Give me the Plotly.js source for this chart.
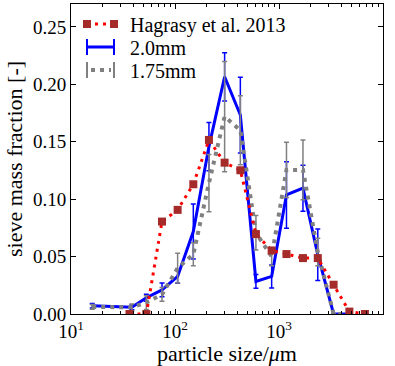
<!DOCTYPE html>
<html>
<head>
<meta charset="utf-8">
<script src="https://cdn.plot.ly/plotly-3.0.1.min.js"></script>
<style>html,body{margin:0;padding:0;background:#fff}</style>
</head>
<body>
<div id="chart" style="width:395px;height:366px"></div>
<script>
// Hagrasy et al. 2013 reference size distribution
const sizeHagrasy = [36.5, 53, 75, 106, 150, 212, 300, 425, 600, 850, 1180, 1700, 2360, 3350, 4750, 6700];
const fracHagrasy = [0.0, 0.0, 0.0805, 0.0907, 0.113, 0.1516, 0.1318, 0.1252, 0.0696, 0.0553, 0.0522, 0.0487, 0.0487, 0.0255, 0.0021, 0.0];

// Sieve analysis, two screen sizes (mean and spread)
const sizeSieve = [16, 38.5, 53, 75, 106, 150, 212, 300, 425, 600, 850, 1180, 1700, 2360, 3350, 4750];
const frac20mm = [0.0072, 0.0058, 0.0142, 0.021, 0.0327, 0.0718, 0.1458, 0.2066, 0.1733, 0.0284, 0.0327, 0.1037, 0.1096, 0.0516, 0.0, 0.0];
const err20mm = [0.002, 0.002, 0.003, 0.006, 0.006, 0.024, 0.021, 0.021, 0.033, 0.006, 0.01, 0.029, 0.02, 0.0225, 0, 0];
const frac175mm = [0.0062, 0.0058, 0.010, 0.017, 0.040, 0.052, 0.114, 0.172, 0.160, 0.0707, 0.05, 0.1255, 0.1255, 0.054, 0.0, 0.0];
const err175mm = [0.002, 0.003, 0.006, 0.006, 0.013, 0.01, 0.025, 0.048, 0.03, 0.015, 0.008, 0.024, 0.026, 0.012, 0, 0];

const seriesNames = ['Hagrasy et al. 2013', '2.0mm', '1.75mm'];

const xTickVals = [10, 100, 1000, 10000];
const xTickText = ['10<sup>1</sup>', '10<sup>2</sup>', '10<sup>3</sup>', '10<sup>4</sup>'];
const yTickVals = [0, 0.05, 0.10, 0.15, 0.20, 0.25];

// minor ticks at 2..9 within each decade
const xMinorVals = [];
[10, 100, 1000].forEach(d => { for (let m = 2; m <= 9; m++) xMinorVals.push(d * m); });

const FONT = '"Liberation Serif", "DejaVu Serif", serif';
const RED = '#ff0000', BROWN = '#a52a2a', BLUE = '#0000ff', GRAY = '#808080';

// plot box in pixels
const M = {l: 71, r: 12, t: 4, b: 52};
const PW = 395 - M.l - M.r, PH = 366 - M.t - M.b;
const px = x => (x - M.l) / PW;
const py = y => (M.t + PH - y) / PH;

const traces = [
  {
    x: sizeSieve, y: frac20mm, type: 'scatter', mode: 'lines', name: seriesNames[1],
    line: {color: BLUE, width: 3},
    error_y: {type: 'data', array: err20mm, visible: true, color: BLUE, thickness: 1.5, width: 2.5}
  },
  {
    x: sizeSieve, y: frac175mm, type: 'scatter', mode: 'lines', name: seriesNames[2],
    line: {color: GRAY, width: 4, dash: '4px,5px'},
    error_y: {type: 'data', array: err175mm, visible: true, color: GRAY, thickness: 1.5, width: 2.5}
  },
  {
    x: sizeHagrasy, y: fracHagrasy, type: 'scatter', mode: 'lines+markers', name: seriesNames[0],
    line: {color: RED, width: 3, dash: '3px,5px'},
    marker: {symbol: 'square', size: 8, color: BROWN}
  }
];

// legend drawn by hand: symbol rows with matplotlib-style handles
const rows = [24, 47, 70];
const hx0 = 87, hx1 = 114;
const shapes = [];
const annotations = [];
const line = (x0, y0, x1, y1, color, width, dash) => ({
  type: 'line', xref: 'paper', yref: 'paper',
  x0: px(x0), y0: py(y0), x1: px(x1), y1: py(y1),
  line: {color: color, width: width, dash: dash || 'solid'}
});
// Hagrasy handle
shapes.push(line(hx0, rows[0], hx1, rows[0], RED, 3, '3px,5px'));
[hx0, hx1].forEach(x => shapes.push({
  type: 'rect', xref: 'paper', yref: 'paper',
  x0: px(x - 4), x1: px(x + 4), y0: py(rows[0] - 4), y1: py(rows[0] + 4),
  fillcolor: BROWN, line: {width: 0}
}));
// 2.0mm handle
shapes.push(line(hx0, rows[1], hx1, rows[1], BLUE, 3));
[hx0, hx1].forEach(x => shapes.push(line(x, rows[1] - 8, x, rows[1] + 8, BLUE, 2)));
// 1.75mm handle
shapes.push(line(hx0 + 4, rows[2], hx1 - 3, rows[2], GRAY, 4, '4px,5px'));
[hx0, hx1].forEach(x => shapes.push(line(x, rows[2] - 8, x, rows[2] + 8, GRAY, 2)));

seriesNames.forEach((name, i) => annotations.push({
  xref: 'paper', yref: 'paper', x: px(128), y: py(rows[i] + 1),
  xanchor: 'left', yanchor: 'middle', showarrow: false,
  text: name, font: {family: FONT, size: 20, color: '#000'}
}));

const layout = {
  width: 395, height: 366,
  margin: M,
  paper_bgcolor: '#fff', plot_bgcolor: '#fff',
  showlegend: false,
  font: {family: FONT, size: 19, color: '#000'},
  xaxis: {
    type: 'log', range: [1, 4],
    tickmode: 'array', tickvals: xTickVals, ticktext: xTickText,
    ticks: 'inside', ticklen: 5, tickwidth: 1, tickcolor: '#000',
    minor: {tickmode: 'array', tickvals: xMinorVals, ticks: 'inside', ticklen: 3, tickwidth: 1, tickcolor: '#000'},
    showline: true, linecolor: '#000', linewidth: 1, mirror: 'allticks',
    showgrid: false, zeroline: false,
    tickfont: {family: FONT, size: 19},
    title: {text: 'particle size/<i>μ</i>m', font: {family: FONT, size: 22}, standoff: 6}
  },
  yaxis: {
    range: [0, 0.27],
    tickmode: 'array', tickvals: yTickVals, tickformat: '.2f',
    ticks: 'inside', ticklen: 5, tickwidth: 1, tickcolor: '#000',
    showline: true, linecolor: '#000', linewidth: 1, mirror: 'allticks',
    showgrid: false, zeroline: false,
    tickfont: {family: FONT, size: 19},
    title: {text: 'sieve mass fraction [-]', font: {family: FONT, size: 22}, standoff: 4}
  },
  shapes: shapes,
  annotations: annotations
};

Plotly.newPlot('chart', traces, layout, {displayModeBar: false, staticPlot: true});
</script>
</body>
</html>
